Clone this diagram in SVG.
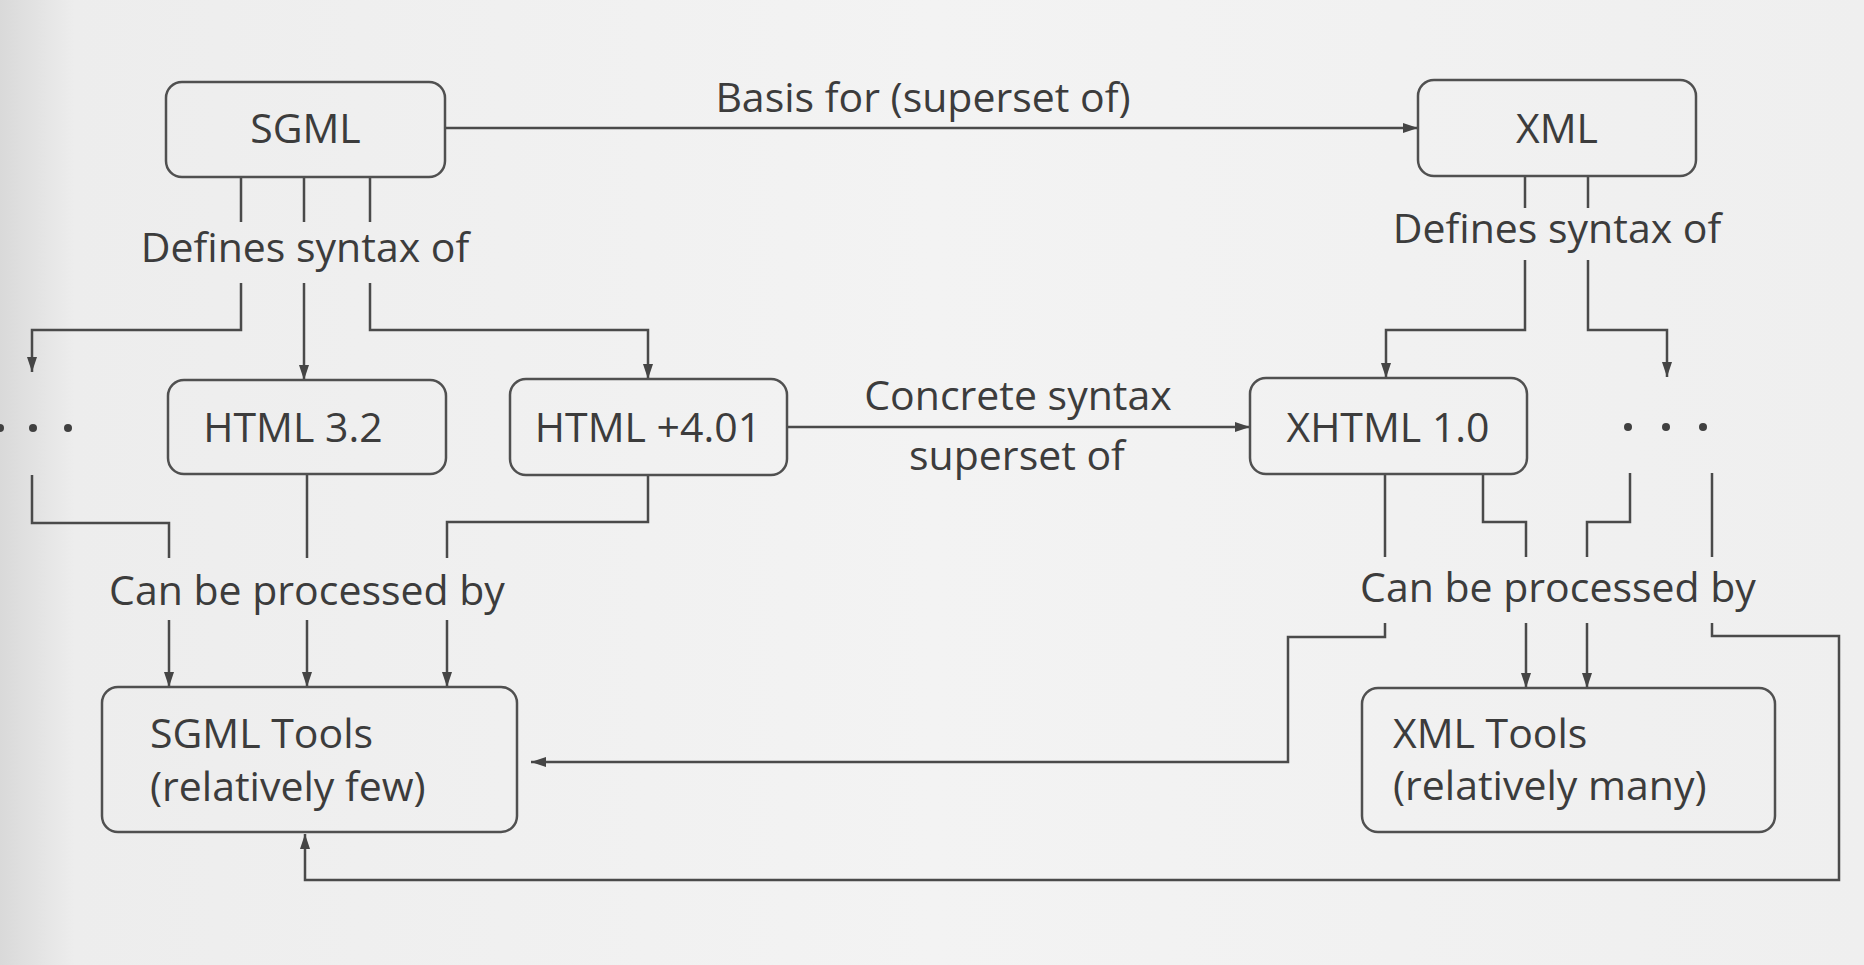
<svg xmlns="http://www.w3.org/2000/svg" width="1864" height="965" viewBox="0 0 1864 965">
<defs>
<linearGradient id="bg" x1="0" y1="0" x2="1" y2="0">
<stop offset="0" stop-color="#d9d9d9"/>
<stop offset="0.04" stop-color="#ededed"/>
<stop offset="0.5" stop-color="#f3f3f3"/>
<stop offset="1" stop-color="#efefef"/>
</linearGradient>
<marker id="arr" markerUnits="userSpaceOnUse" markerWidth="16" markerHeight="12" refX="15" refY="5" orient="auto">
<path d="M0,0 L15,5 L0,10 z" fill="#454545"/>
</marker>
</defs>
<style>
.box{fill:none;stroke:#505050;stroke-width:2.5}
.t{font-family:"Open Sans","Noto Sans","Liberation Sans",sans-serif;font-size:41px;fill:#3c3c3c}
.c{text-anchor:middle}
.ln{fill:none;stroke:#4a4a4a;stroke-width:2.5}
.a{marker-end:url(#arr)}
.dot{fill:#404040}
</style>
<rect x="0" y="0" width="1864" height="965" fill="url(#bg)"/>

<g id="connectors">
<!-- SGML to XML -->
<path class="ln a" d="M445,128 H1418"/>
<text class="t c" x="923" y="112">Basis for (superset of)</text>
<!-- SGML defines syntax of -->
<path class="ln" d="M241,177 V222 M304,177 V222 M370,177 V222"/>
<path class="ln a" d="M241,283 V330 H32 V372"/>
<path class="ln a" d="M304,283 V380"/>
<path class="ln a" d="M370,283 V330 H648 V379"/>
<text class="t c" x="305" y="262">Defines syntax of</text>
<!-- XML defines syntax of -->
<path class="ln" d="M1525,176 V208 M1588,176 V208"/>
<path class="ln a" d="M1525,260 V330 H1386 V378"/>
<path class="ln a" d="M1588,260 V330 H1667 V377"/>
<text class="t c" x="1557" y="243">Defines syntax of</text>
<!-- HTML +4.01 to XHTML -->
<path class="ln a" d="M787,427 H1250"/>
<text class="t c" x="1018" y="410">Concrete syntax</text>
<text class="t c" x="1017" y="470">superset of</text>
<!-- left can be processed by -->
<path class="ln" d="M32,475 V523 H169 V558 M307,474 V558 M648,475 V522 H447 V558"/>
<path class="ln a" d="M169,620 V687"/>
<path class="ln a" d="M307,620 V687"/>
<path class="ln a" d="M447,620 V687"/>
<text class="t c" x="307" y="605">Can be processed by</text>
<!-- right can be processed by -->
<path class="ln" d="M1385,474 V557 M1483,474 V522 H1526 V557 M1630,473 V522 H1587 V557 M1712,473 V557"/>
<path class="ln a" d="M1385,623 V637 H1288 V762 H531"/>
<path class="ln a" d="M1526,623 V688"/>
<path class="ln a" d="M1587,623 V688"/>
<path class="ln a" d="M1712,623 V636 H1839 V880 H305 V834"/>
<text class="t c" x="1558" y="602">Can be processed by</text>
</g>

<g id="sgml">
<rect class="box" x="166" y="82" width="279" height="95" rx="16"/>
<text class="t c" x="305.5" y="143">SGML</text>
</g>
<g id="xml">
<rect class="box" x="1418" y="80" width="278" height="96" rx="16"/>
<text class="t c" x="1557" y="143">XML</text>
</g>
<g id="dots-left">
<circle class="dot" cx="0" cy="428" r="4"/>
<circle class="dot" cx="33" cy="428" r="4"/>
<circle class="dot" cx="68" cy="428" r="4"/>
</g>
<g id="html32">
<rect class="box" x="168" y="380" width="278" height="94" rx="16"/>
<text class="t c" x="293" y="442">HTML 3.2</text>
</g>
<g id="html401">
<rect class="box" x="510" y="379" width="277" height="96" rx="16"/>
<text class="t c" x="648" y="442">HTML +4.01</text>
</g>
<g id="xhtml">
<rect class="box" x="1250" y="378" width="277" height="96" rx="16"/>
<text class="t c" x="1388" y="442">XHTML 1.0</text>
</g>
<g id="dots-right">
<circle class="dot" cx="1628" cy="427" r="4"/>
<circle class="dot" cx="1666" cy="427" r="4"/>
<circle class="dot" cx="1703" cy="427" r="4"/>
</g>
<g id="sgml-tools">
<rect class="box" x="102" y="687" width="415" height="145" rx="16"/>
<text class="t" x="150" y="748">SGML Tools</text>
<text class="t" x="150" y="801">(relatively few)</text>
</g>
<g id="xml-tools">
<rect class="box" x="1362" y="688" width="413" height="144" rx="16"/>
<text class="t" x="1393" y="748">XML Tools</text>
<text class="t" x="1393" y="800">(relatively many)</text>
</g>
</svg>
